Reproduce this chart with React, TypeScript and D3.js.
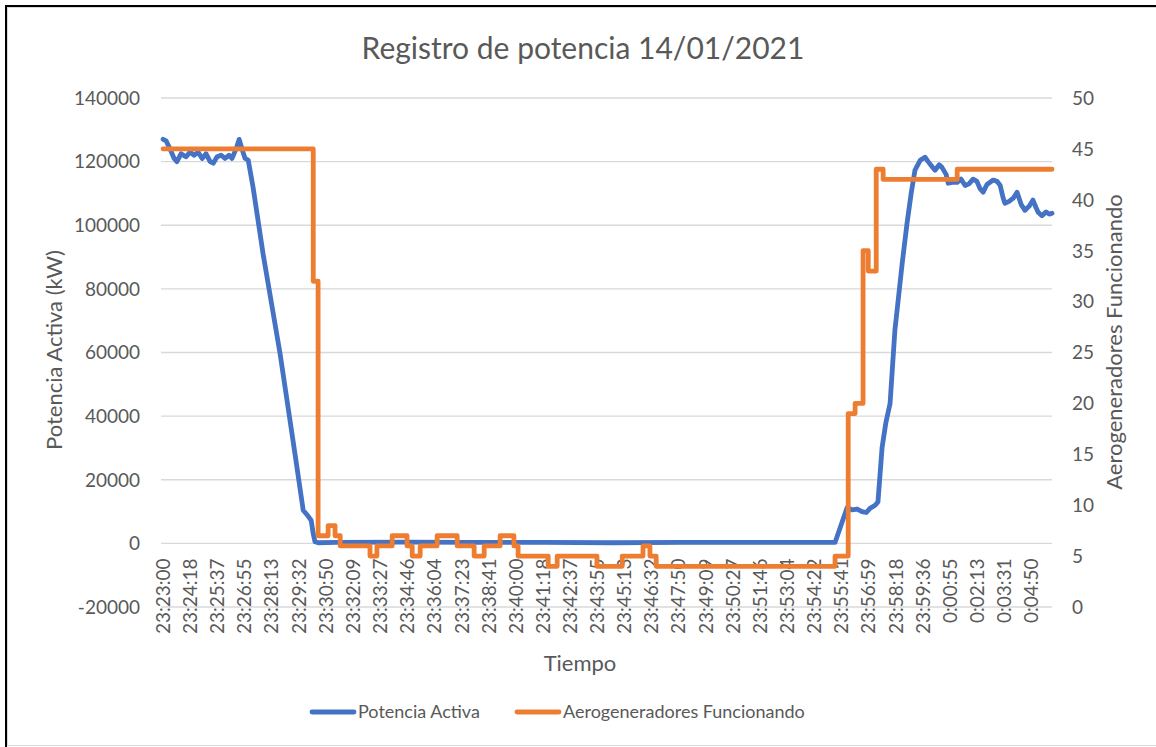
import React, { useEffect, useRef } from "react";
import * as d3 from "d3";

// tiempo (s desde 23:23:00), potencia activa (kW)
const potenciaActiva: [number, number][] = [
  [0, 127000], [9, 126500], [20, 124000], [32, 121000], [40, 120000], [52, 122500],
  [66, 121500], [78, 123000], [90, 122000], [101, 123000], [113, 121000], [124, 122500],
  [136, 120000], [145, 119500], [156, 121500], [168, 122000], [179, 121000], [191, 122000],
  [199, 121000], [211, 124000], [220, 127000], [228, 124000], [237, 121000], [246, 120500],
  [260, 112000], [289, 91000], [338, 59700], [381, 28300], [405, 10400], [419, 8600],
  [428, 7200], [434, 3000], [439, 500], [448, 200], [500, 300], [700, 400], [900, 300],
  [1100, 300], [1300, 200], [1500, 300], [1700, 300], [1900, 300], [1942, 300],
  [1977, 11300], [1991, 10500], [2006, 10800], [2020, 10000], [2032, 9700], [2043, 11000],
  [2058, 12000], [2066, 13000], [2078, 30200], [2089, 38000], [2101, 44000], [2115, 67000],
  [2136, 88000], [2150, 100600], [2162, 110000], [2173, 117300], [2188, 120400],
  [2202, 121400], [2211, 120000], [2222, 118500], [2231, 117300], [2243, 119000],
  [2251, 118200], [2263, 116000], [2269, 113200], [2280, 113500], [2295, 113500],
  [2306, 114500], [2318, 112500], [2329, 113000], [2341, 114500], [2352, 113800],
  [2361, 111500], [2370, 110400], [2381, 112800], [2399, 114200], [2410, 113800],
  [2419, 112600], [2428, 108500], [2433, 106900], [2445, 107500], [2457, 108500],
  [2468, 110400], [2480, 106500], [2491, 104700], [2503, 106000], [2514, 107900],
  [2523, 105500], [2529, 104100], [2540, 103000], [2552, 104200], [2561, 103500],
  [2569, 103800],
];

// tiempo (s desde 23:23:00), aerogeneradores funcionando
const aerogeneradores: [number, number][] = [
  [0, 45], [434, 32], [448, 7], [477, 8], [497, 7], [512, 6], [598, 5], [618, 6],
  [662, 7], [705, 6], [720, 5], [743, 6], [792, 7], [850, 6], [899, 5], [928, 6],
  [974, 7], [1014, 6], [1026, 5], [1113, 4], [1139, 5], [1254, 4], [1327, 5], [1387, 6],
  [1407, 5], [1425, 4], [1942, 5], [1980, 19], [2000, 20], [2023, 35], [2038, 33],
  [2061, 43], [2081, 42], [2295, 43], [2569, 43],
];

const timeLabels = [
  "23:23:00", "23:24:18", "23:25:37", "23:26:55", "23:28:13", "23:29:32", "23:30:50",
  "23:32:09", "23:33:27", "23:34:46", "23:36:04", "23:37:23", "23:38:41", "23:40:00",
  "23:41:18", "23:42:37", "23:43:55", "23:45:13", "23:46:32", "23:47:50", "23:49:09",
  "23:50:27", "23:51:46", "23:53:04", "23:54:22", "23:55:41", "23:56:59", "23:58:18",
  "23:59:36", "0:00:55", "0:02:13", "0:03:31", "0:04:50",
];
const leftTicks = [-20000, 0, 20000, 40000, 60000, 80000, 100000, 120000, 140000];
const rightTicks = [0, 5, 10, 15, 20, 25, 30, 35, 40, 45, 50];

const START = 23 * 3600 + 23 * 60;
const toSec = (s: string) => {
  const [h, m, ss] = s.split(":").map(Number);
  let t = h * 3600 + m * 60 + ss;
  if (h < 12) t += 86400;
  return t - START;
};

const BLUE = "#4472C4";
const ORANGE = "#ED7D31";
const TEXT = "#595959";
const GRID = "#D9D9D9";
const FONT = "Lato, 'Open Sans', sans-serif";

const App = () => {
  const ref = useRef<SVGSVGElement>(null);

  useEffect(() => {
    const svg = d3.select(ref.current);
    svg.selectAll("*").remove();

    const plot = { left: 161, right: 1052, top: 98, bottom: 607 };

    const x = d3.scaleLinear().domain([-6, 2569]).range([plot.left, plot.right]);
    const yL = d3.scaleLinear().domain([-20000, 140000]).range([plot.bottom, plot.top]);
    const yR = d3.scaleLinear().domain([0, 50]).range([plot.bottom, plot.top]);

    // frame
    svg.append("rect")
      .attr("x", 7.5).attr("y", 7.5).attr("width", 1160).attr("height", 738)
      .attr("fill", "#fff").attr("stroke", GRID);
    svg.append("path").attr("d", "M6,747V6H1156")
      .attr("fill", "none").attr("stroke", "#000").attr("stroke-width", 2);

    // gridlines
    svg.append("g").selectAll("line").data(leftTicks).enter().append("line")
      .attr("x1", plot.left).attr("x2", plot.right)
      .attr("y1", d => yL(d)).attr("y2", d => yL(d))
      .attr("stroke", GRID).attr("stroke-width", 1.3);

    // left tick labels
    svg.append("g").selectAll("text").data(leftTicks).enter().append("text")
      .attr("x", 140).attr("y", d => yL(d)).attr("dy", "0.36em")
      .attr("text-anchor", "end")
      .attr("font-family", FONT).attr("font-size", 19).attr("fill", TEXT)
      .text(d => String(d));

    // right tick labels
    svg.append("g").selectAll("text").data(rightTicks).enter().append("text")
      .attr("x", 1072).attr("y", d => yR(d)).attr("dy", "0.36em")
      .attr("text-anchor", "start")
      .attr("font-family", FONT).attr("font-size", 19).attr("fill", TEXT)
      .text(d => String(d));

    // x labels
    svg.append("g").selectAll("text").data(timeLabels).enter().append("text")
      .attr("transform", d => `translate(${x(toSec(d))},${yL(0) + 15}) rotate(-90)`)
      .attr("dy", "0.36em")
      .attr("text-anchor", "end")
      .attr("font-family", FONT).attr("font-size", 19).attr("fill", TEXT)
      .text(d => d);

    // series
    const lineL = d3.line<[number, number]>()
      .x(d => x(d[0])).y(d => yL(d[1]));
    const lineR = d3.line<[number, number]>()
      .x(d => x(d[0])).y(d => yR(d[1]))
      .curve(d3.curveStepAfter);

    svg.append("path").datum(potenciaActiva)
      .attr("d", lineL).attr("fill", "none")
      .attr("stroke", BLUE).attr("stroke-width", 4.8)
      .attr("stroke-linejoin", "round").attr("stroke-linecap", "round");
    svg.append("path").datum(aerogeneradores)
      .attr("d", lineR).attr("fill", "none")
      .attr("stroke", ORANGE).attr("stroke-width", 4.8)
      .attr("stroke-linejoin", "round").attr("stroke-linecap", "round");

    // title
    svg.append("text")
      .attr("x", 583).attr("y", 59).attr("text-anchor", "middle")
      .attr("font-family", FONT).attr("font-size", 30).attr("fill", TEXT)
      .text("Registro de potencia 14/01/2021");

    // axis titles
    svg.append("text")
      .attr("transform", "translate(62,350) rotate(-90)")
      .attr("text-anchor", "middle")
      .attr("font-family", FONT).attr("font-size", 22).attr("fill", TEXT)
      .text("Potencia Activa (kW)");
    svg.append("text")
      .attr("transform", "translate(1122,342) rotate(-90)")
      .attr("text-anchor", "middle")
      .attr("font-family", FONT).attr("font-size", 22).attr("fill", TEXT)
      .text("Aerogeneradores Funcionando");
    svg.append("text")
      .attr("x", 580).attr("y", 671).attr("text-anchor", "middle")
      .attr("font-family", FONT).attr("font-size", 22).attr("fill", TEXT)
      .text("Tiempo");

    // legend
    const legend = [
      { name: "Potencia Activa", color: BLUE, x: 312 },
      { name: "Aerogeneradores Funcionando", color: ORANGE, x: 517 },
    ];
    const lg = svg.append("g").selectAll("g").data(legend).enter().append("g");
    lg.append("line")
      .attr("x1", d => d.x).attr("x2", d => d.x + 42)
      .attr("y1", 712).attr("y2", 712)
      .attr("stroke", d => d.color).attr("stroke-width", 4.8)
      .attr("stroke-linecap", "round");
    lg.append("text")
      .attr("x", d => d.x + 46).attr("y", 712).attr("dy", "0.36em")
      .attr("font-family", FONT).attr("font-size", 18).attr("fill", TEXT)
      .text(d => d.name);
  }, []);

  return (
    <svg
      ref={ref}
      width={1156}
      height={747}
      style={{ position: "absolute", left: 0, top: 0, background: "#fff" }}
    />
  );
};

export default App;
